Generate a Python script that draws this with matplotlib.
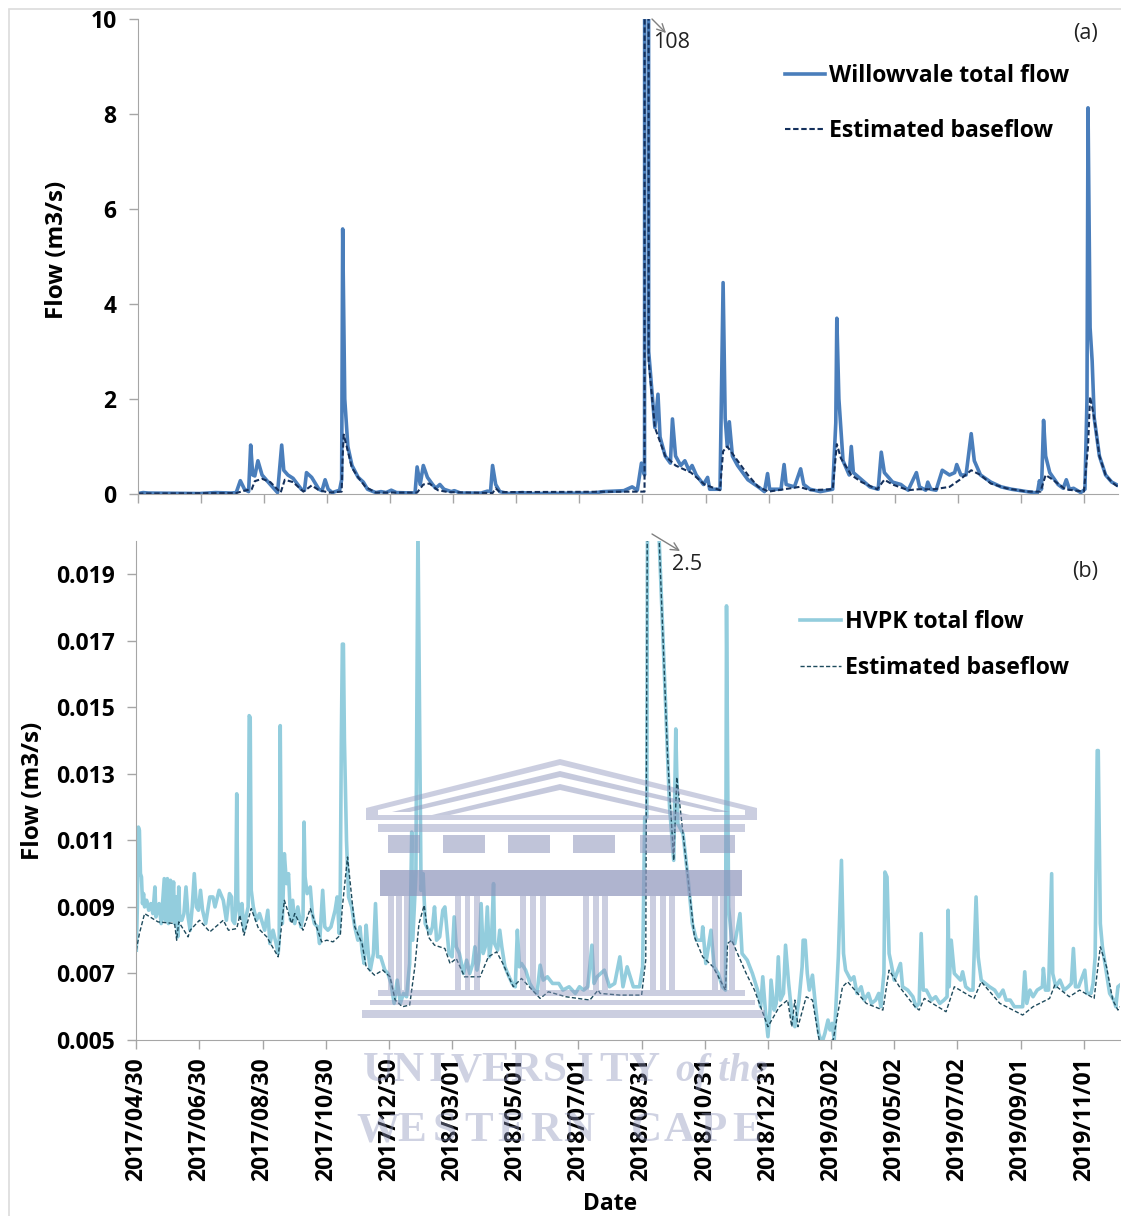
"""Willowvale and HVPK total flow against estimated baseflow."""

import matplotlib
matplotlib.use("Agg")
import matplotlib.pyplot as plt
from matplotlib.lines import Line2D
from matplotlib.patches import FancyArrowPatch, Polygon
import numpy as np

plt.rcParams["font.family"] = ["Open Sans", "DejaVu Sans"]

W, H = 1121, 1216

tick_days = list(range(0, 916, 61))
tick_labels = ["2017/04/30", "2017/06/30", "2017/08/30", "2017/10/30", "2017/12/30",
               "2018/03/01", "2018/05/01", "2018/07/01", "2018/08/31", "2018/10/31",
               "2018/12/31", "2019/03/02", "2019/05/02", "2019/07/02", "2019/09/01",
               "2019/11/01"]

# panel (a), m3/s, days since 2017/04/30
will_days = [0, 5, 10, 60, 75, 90, 95, 99, 103, 107, 109, 111, 113, 116, 120, 128, 135, 139, 141, 145,
             150, 158, 161, 163, 168, 175, 178, 181, 184, 188, 195, 197, 198, 200, 203, 207, 213, 218,
             222, 230, 235, 240, 245, 250, 268, 270, 273, 276, 280, 285, 288, 292, 296, 303, 306, 312,
             332, 338, 341, 343, 346, 350, 358, 372, 380, 440, 450, 470, 478, 483, 487, 490, 491, 493,
             494, 500, 503, 505, 510, 515, 517, 520, 525, 529, 533, 536, 540, 547, 551, 553, 563, 566,
             568, 570, 572, 575, 580, 590, 600, 606, 609, 611, 622, 625, 627, 635, 641, 644, 650, 660,
             672, 675, 676, 678, 682, 688, 690, 692, 700, 708, 716, 719, 722, 730, 738, 745, 753, 756,
             762, 764, 767, 772, 778, 785, 790, 792, 796, 801, 806, 809, 815, 825, 835, 845, 860, 870,
             872, 874, 876, 878, 882, 890, 895, 898, 901, 905, 912, 916, 918, 919, 921, 923, 925, 930,
             936, 942, 948]
will_total = [0.01, 0.03, 0.02, 0.01, 0.03, 0.02, 0.03, 0.28, 0.1, 0.05, 1.03, 0.4, 0.38, 0.7, 0.4, 0.2,
              0.03, 1.03, 0.5, 0.4, 0.33, 0.1, 0.08, 0.45, 0.35, 0.1, 0.07, 0.3, 0.1, 0.03, 0.08, 0.3,
              5.58, 2.0, 1.0, 0.6, 0.35, 0.25, 0.1, 0.03, 0.05, 0.03, 0.08, 0.03, 0.02, 0.57, 0.2, 0.6,
              0.35, 0.2, 0.12, 0.2, 0.1, 0.05, 0.07, 0.02, 0.02, 0.06, 0.05, 0.6, 0.2, 0.05, 0.01, 0.03,
              0.01, 0.02, 0.05, 0.07, 0.15, 0.08, 0.65, 0.4, 108, 108, 3.0, 1.4, 2.1, 1.2, 0.8, 0.65,
              1.58, 0.8, 0.6, 0.7, 0.5, 0.6, 0.4, 0.2, 0.35, 0.1, 0.1, 4.45, 1.6, 1.0, 1.52, 0.8, 0.6,
              0.3, 0.15, 0.05, 0.43, 0.1, 0.1, 0.62, 0.2, 0.15, 0.53, 0.2, 0.1, 0.05, 0.1, 1.5, 3.7, 2.0,
              0.7, 0.4, 1.0, 0.45, 0.3, 0.15, 0.1, 0.88, 0.45, 0.25, 0.2, 0.08, 0.45, 0.15, 0.08, 0.25,
              0.1, 0.08, 0.5, 0.4, 0.45, 0.62, 0.4, 0.4, 1.27, 0.7, 0.4, 0.25, 0.15, 0.1, 0.05, 0.02,
              0.28, 0.1, 1.55, 0.8, 0.45, 0.2, 0.12, 0.3, 0.1, 0.12, 0.03, 0.1, 2.0, 8.13, 3.5, 2.8, 1.6,
              0.8, 0.4, 0.25, 0.18]
will_base_days = [0, 95, 103, 110, 113, 120, 128, 138, 142, 150, 160, 168, 175, 185, 197, 198, 199, 203,
                  207, 213, 220, 230, 270, 276, 282, 290, 300, 343, 346, 350, 490, 491, 493, 494, 500,
                  510, 520, 535, 548, 563, 566, 570, 580, 590, 600, 610, 625, 640, 650, 672, 676, 680,
                  690, 700, 715, 722, 730, 745, 755, 770, 785, 795, 806, 815, 825, 840, 860, 873, 878,
                  885, 897, 915, 919, 921, 925, 930, 936, 942, 948]
will_base = [0.01, 0.02, 0.07, 0.1, 0.27, 0.32, 0.25, 0.03, 0.3, 0.25, 0.05, 0.18, 0.08, 0.03, 0.05, 0.8,
             1.25, 0.9, 0.55, 0.35, 0.15, 0.03, 0.03, 0.2, 0.22, 0.08, 0.04, 0.02, 0.12, 0.04, 0.05, 108,
             108, 2.8, 1.4, 0.8, 0.6, 0.45, 0.2, 0.08, 0.9, 1.0, 0.7, 0.4, 0.15, 0.05, 0.1, 0.15, 0.08,
             0.1, 1.05, 0.75, 0.4, 0.25, 0.1, 0.3, 0.2, 0.08, 0.1, 0.1, 0.15, 0.3, 0.5, 0.4, 0.22, 0.12,
             0.05, 0.05, 0.4, 0.3, 0.1, 0.05, 1.0, 2.05, 1.6, 0.8, 0.4, 0.25, 0.15]

# panel (b), l/s, days since 2017/04/30
hvpk_days = [0, 1, 2, 3, 4, 5, 6, 7, 8, 10, 12, 14, 16, 18, 19, 22, 24, 27, 28, 30, 31, 33, 34, 36, 37, 39,
             40, 41, 42, 44, 46, 48, 50, 52, 54, 56, 58, 60, 62, 64, 67, 71, 74, 76, 80, 84, 87, 90, 92,
             93, 95, 96, 97, 98, 100, 102, 104, 106, 108, 109, 110, 111, 113, 116, 119, 122, 124, 127,
             129, 132, 135, 137, 138, 139, 140, 141, 143, 145, 147, 149, 151, 153, 156, 159, 161, 162,
             163, 165, 168, 170, 172, 175, 177, 180, 182, 185, 188, 192, 194, 196, 197, 198, 199, 200,
             201, 203, 205, 208, 211, 214, 216, 218, 220, 222, 224, 226, 229, 231, 233, 236, 240, 243,
             246, 249, 252, 255, 258, 261, 264, 266, 267, 270, 272, 275, 277, 279, 282, 284, 286, 288,
             290, 293, 296, 298, 300, 302, 305, 307, 309, 312, 316, 319, 322, 325, 327, 329, 331, 333,
             335, 337, 339, 341, 343, 345, 346, 349, 351, 353, 356, 360, 363, 366, 368, 370, 372, 376,
             380, 384, 387, 390, 393, 397, 402, 408, 412, 418, 424, 428, 432, 436, 440, 442, 445, 452,
             457, 462, 467, 470, 474, 480, 486, 489, 491, 493, 494, 497, 505, 513, 515, 519, 521, 523, 528,
             533, 537, 541, 546, 547, 550, 555, 558, 562, 566, 569, 570, 572, 575, 578, 583, 585, 590,
             595, 600, 603, 605, 608, 610, 612, 613, 616, 618, 620, 622, 625, 627, 630, 633, 636, 640,
             643, 644, 646, 648, 650, 653, 656, 659, 662, 665, 668, 670, 672, 674, 678, 681, 683, 685,
             690, 693, 696, 700, 703, 707, 710, 714, 717, 719, 722, 723, 725, 727, 729, 732, 738, 740,
             745, 750, 753, 756, 758, 760, 763, 768, 772, 776, 780, 783, 784, 785, 787, 790, 793, 796,
             798, 801, 805, 808, 811, 813, 816, 820, 824, 829, 833, 837, 840, 844, 848, 853, 856, 858,
             860, 863, 866, 870, 875, 876, 878, 881, 884, 885, 888, 892, 896, 900, 903, 905, 907, 910,
             916, 918, 922, 924, 926, 928, 929, 931, 933, 936, 940, 944, 946, 948, 950]
hvpk_total = [7.7, 9.0, 11.4, 11.3, 10.0, 9.9, 9.1, 9.4, 9.0, 9.2, 8.9, 9.1, 8.8, 9.6, 8.7, 9.1, 8.5, 9.85,
              8.6, 9.85, 8.5, 9.8, 8.6, 9.75, 8.5, 9.3, 8.1, 9.6, 8.6, 8.6, 8.8, 9.6, 8.7, 8.3, 9.0, 10.0,
              9.0, 8.9, 9.5, 8.9, 8.5, 9.3, 9.3, 9.0, 9.5, 9.2, 8.6, 9.4, 9.3, 8.6, 8.5, 9.0, 12.4, 9.2,
              8.7, 9.1, 8.3, 8.7, 9.0, 14.75, 14.7, 9.5, 9.0, 8.6, 8.8, 8.5, 8.3, 8.9, 7.9, 8.3, 7.9, 7.6,
              8.0, 14.45, 10.0, 8.5, 10.6, 9.7, 10.0, 8.6, 9.2, 8.5, 9.0, 8.4, 8.7, 11.55, 9.9, 9.4, 9.6,
              8.8, 8.5, 8.4, 7.9, 9.5, 8.4, 8.3, 8.4, 8.9, 9.3, 8.2, 9.5, 14.0, 16.9, 16.9, 14.0, 11.0,
              9.3, 9.0, 8.4, 8.0, 8.4, 7.7, 7.3, 8.45, 7.6, 7.1, 7.6, 9.1, 7.5, 7.5, 7.1, 7.0, 6.7, 6.1,
              6.8, 6.1, 6.4, 6.3, 7.3, 11.25, 8.0, 10.0, 20.5, 9.5, 10.0, 8.5, 8.3, 8.2, 8.4, 9.0, 8.0,
              8.1, 8.9, 9.0, 8.3, 7.6, 7.5, 8.7, 7.8, 7.6, 7.0, 7.4, 7.0, 7.3, 7.8, 7.1, 7.4, 9.1, 7.6,
              7.8, 9.0, 7.5, 8.0, 9.7, 7.9, 7.7, 8.3, 7.8, 7.2, 6.9, 6.7, 6.6, 8.3, 7.2, 7.3, 7.1, 6.7,
              6.5, 6.4, 7.25, 6.8, 6.9, 6.7, 6.7, 6.5, 6.6, 6.4, 6.6, 6.5, 6.6, 7.85, 6.7, 6.9, 7.1, 6.6,
              6.7, 7.5, 6.6, 7.2, 6.6, 6.6, 7.2, 11.7, 11.7, 25.0, 25.0, 20.0, 13.6, 12.0, 10.4, 14.35, 11.5,
              11.2, 9.8, 8.5, 8.0, 8.0, 8.4, 7.3, 8.3, 7.2, 7.0, 6.6, 6.5, 18.05, 9.0, 8.0, 7.9, 8.8, 7.6,
              7.4, 7.0, 6.5, 6.0, 6.9, 5.7, 5.1, 5.9, 6.8, 5.9, 6.1, 7.5, 6.2, 6.4, 7.85, 6.7, 5.8, 5.4,
              6.2, 7.2, 8.0, 8.0, 7.0, 6.5, 6.95, 6.0, 5.2, 4.9, 5.2, 5.6, 5.3, 5.5, 5.0, 7.5, 10.4, 7.6,
              7.1, 6.8, 6.9, 6.4, 6.6, 6.2, 6.4, 6.1, 6.2, 6.4, 6.0, 7.0, 10.05, 9.9, 7.6, 7.3, 6.8, 7.3,
              6.6, 6.5, 6.3, 6.0, 6.1, 8.2, 6.5, 6.5, 6.2, 6.3, 6.1, 6.2, 6.3, 8.9, 6.6, 8.0, 7.0, 6.9,
              6.8, 7.05, 6.6, 6.5, 6.5, 9.3, 7.5, 6.8, 6.7, 6.6, 6.5, 6.3, 6.5, 6.2, 6.2, 6.0, 6.0, 6.0,
              7.05, 6.1, 6.5, 6.3, 6.5, 6.6, 7.15, 6.5, 6.5, 10.0, 7.0, 6.6, 6.8, 6.5, 6.6, 6.7, 7.75, 6.6,
              6.6, 7.1, 6.4, 6.4, 6.7, 7.5, 13.7, 13.7, 8.5, 7.8, 7.2, 6.4, 6.2, 6.0, 6.6, 6.65]
hvpk_base_days = [0, 3, 8, 21, 37, 39, 41, 50, 52, 61, 71, 84, 89, 97, 100, 104, 111, 118, 126, 137, 143,
                  150, 153, 161, 168, 179, 184, 190, 197, 199, 204, 208, 211, 218, 222, 230, 238, 245,
                  250, 257, 264, 269, 273, 278, 282, 288, 298, 303, 309, 317, 332, 340, 348, 354, 364,
                  372, 390, 398, 415, 438, 446, 448, 467, 488, 492, 494, 497, 505, 513, 515, 519, 522, 528,
                  533, 539, 547, 557, 569, 571, 575, 589, 597, 610, 621, 629, 633, 636, 639, 647, 653, 660,
                  673, 682, 687, 705, 721, 727, 737, 752, 756, 761, 782, 790, 809, 816, 834, 856, 866, 882,
                  887, 901, 911, 925, 931, 937, 943, 948, 950]
hvpk_base = [7.7, 8.2, 8.8, 8.55, 8.5, 8.0, 8.55, 8.1, 8.3, 8.6, 8.25, 8.6, 8.3, 8.35, 8.75, 8.15, 8.95,
             8.35, 8.1, 7.5, 9.2, 8.5, 8.8, 8.3, 8.95, 7.95, 8.0, 7.95, 8.15, 9.0, 10.5, 9.3, 8.4, 7.9,
             7.2, 6.95, 7.1, 6.9, 6.2, 6.0, 6.05, 7.2, 8.5, 9.05, 8.1, 7.85, 7.75, 7.3, 7.45, 6.9, 6.9,
             7.5, 7.65, 7.3, 6.6, 6.85, 6.25, 6.45, 6.3, 6.2, 6.5, 6.4, 6.35, 6.35, 7.4, 25.0, 25.0, 20.0,
             13.6, 12.5, 10.4, 12.9, 11.2, 9.8, 8.1, 7.5, 7.2, 6.5, 7.9, 8.0, 7.0, 6.5, 5.4, 6.0, 6.2, 5.4,
             6.2, 5.4, 6.3, 6.2, 4.9, 5.0, 6.6, 6.75, 6.1, 5.9, 7.1, 6.6, 6.0, 5.9, 6.25, 5.85, 6.6, 6.25,
             6.75, 6.1, 5.75, 6.0, 6.25, 6.65, 6.3, 6.5, 6.25, 7.8, 7.2, 6.2, 5.9, 6.0]

hvpk_total = np.array(hvpk_total) / 1000
hvpk_base = np.array(hvpk_base) / 1000

BLUE = "#4a7ebb"
NAVY = "#14305c"
LIGHT = "#93cddd"
TEAL = "#1d4a5c"
GREY = "#a6a6a6"
TICK = 16.5


def axes_px(fig, left, top, right, bottom):
    ax = fig.add_axes([left / W, 1 - bottom / H, (right - left) / W, (bottom - top) / H])
    ax.patch.set_alpha(0)
    return ax


def style_axes(ax, xmax):
    ax.set_xlim(0, xmax)
    ax.set_xticks(tick_days)
    for side in ["top", "right"]:
        ax.spines[side].set_visible(False)
    for side in ["left", "bottom"]:
        ax.spines[side].set_color(GREY)
    ax.tick_params(axis="both", color=GREY, length=6.5, width=1)
    ax.tick_params(axis="y", pad=9)
    for lab in ax.get_yticklabels():
        lab.set_fontweight("bold")
        lab.set_fontsize(TICK)


def draw_watermark(fig):
    col = "#8d94bb"
    tr = fig.transFigure

    def P(points, alpha=0.45):
        pts = [(x / W, 1 - y / H) for x, y in points]
        fig.add_artist(Polygon(pts, closed=True, fc=col, ec="none", alpha=alpha, transform=tr, zorder=5))

    def R(x0, y0, x1, y1, alpha=0.45):
        P([(x0, y0), (x1, y0), (x1, y1), (x0, y1)], alpha)

    # pediment stripes
    P([(366, 808), (560, 759), (757, 808), (757, 820), (745, 820), (745, 810), (560, 765), (378, 810),
       (378, 820), (366, 820)])
    P([(392, 812), (560, 771), (730, 812), (715, 812), (560, 777), (410, 812)], 0.5)
    P([(432, 815), (560, 784), (690, 815), (672, 815), (560, 790), (450, 815)], 0.5)
    R(378, 815, 745, 820)
    R(378, 824, 745, 832)
    # frieze with its windows left open
    for x0, x1 in [(388, 420), (443, 485), (508, 550), (573, 615), (640, 675), (700, 735)]:
        R(x0, 835, x1, 853, 0.55)
    R(380, 870, 742, 896, 0.7)
    for x0, x1 in [(388, 410), (455, 480), (520, 546), (583, 608), (650, 675), (712, 735)]:
        R(x0, 896, x0 + 6, 990)
        R(x1 - 6, 896, x1, 990)
        R((x0 + x1) / 2 - 3, 896, (x0 + x1) / 2 + 3, 990)
    R(378, 990, 745, 996)
    R(370, 1000, 755, 1005)
    R(362, 1010, 765, 1018)

    word_font = dict(family="Liberation Serif", weight="bold", fontsize=31, color=col, alpha=0.42,
                     ha="center", zorder=5)
    for i, letter in enumerate("UNIVERSITY"):
        fig.text((378 + 29.5 * i) / W, 1 - 1081 / H, letter, **word_font)
    for i, letter in enumerate("WESTERN CAPE"):
        fig.text((378 + 33.5 * i) / W, 1 - 1141 / H, letter, **word_font)
    fig.text(722 / W, 1 - 1081 / H, "of the", family="Liberation Serif", style="italic", weight="bold",
             fontsize=28, color=col, alpha=0.42, ha="center", zorder=5)


def main():
    fig = plt.figure(figsize=(W / 100, H / 100), dpi=100)

    # faint frame of the pasted panels
    fig.add_artist(Line2D([9 / W, 9 / W], [0, 1 - 10 / H], color="#dcdcdc", lw=1.2))
    fig.add_artist(Line2D([9 / W, 1], [1 - 9 / H, 1 - 9 / H], color="#dcdcdc", lw=1.2))

    ax1 = axes_px(fig, 138, 19, 1118, 494)
    ax1.plot(will_days, will_total, color=BLUE, lw=2.6, label="Willowvale total flow")
    ax1.plot(will_base_days, will_base, color=NAVY, lw=1.5, ls=(0, (2.6, 1.3)), label="Estimated baseflow")
    ax1.set_ylim(0, 10)
    ax1.set_yticks([0, 2, 4, 6, 8, 10])
    style_axes(ax1, 948)
    ax1.set_xticklabels([])
    ax1.set_ylabel("Flow (m3/s)", fontsize=17.5, fontweight="bold", va="center")
    ax1.yaxis.set_label_coords((57 - 138) / 980, 0.514)
    ax1.legend(loc="upper left", bbox_to_anchor=(0.66, 0.906), frameon=False, handlelength=1.75,
               handletextpad=0.17, labelspacing=1.37, borderpad=0, borderaxespad=0,
               prop={"weight": "bold", "size": 16.6})
    fig.text(1085 / W, 1 - 33 / H, "(a)", fontsize=15.5, ha="center", va="center", color="#222222")
    fig.text(672 / W, 1 - 42 / H, "108", fontsize=15.5, ha="center", va="center", color="#222222")

    ax2 = axes_px(fig, 136.3, 541, 1120, 1040)
    ax2.plot(hvpk_days, hvpk_total, color=LIGHT, lw=2.6, label="HVPK total flow")
    ax2.plot(hvpk_base_days, hvpk_base, color=TEAL, lw=1.0, ls=(0, (3, 1.6)), label="Estimated baseflow")
    ax2.set_ylim(0.005, 0.020)
    ax2.set_yticks([0.005, 0.007, 0.009, 0.011, 0.013, 0.015, 0.017, 0.019])
    ax2.set_yticklabels(["0.005", "0.007", "0.009", "0.011", "0.013", "0.015", "0.017", "0.019"])
    style_axes(ax2, 950)
    ax2.set_xticklabels(tick_labels, rotation=90, fontsize=TICK, fontweight="bold")
    ax2.tick_params(axis="x", pad=6)
    ax2.set_xlabel("Date", fontsize=16.5, fontweight="bold", va="center")
    ax2.xaxis.set_label_coords((610 - 136.3) / 983.7, (1040 - 1204) / 499)
    ax2.set_ylabel("Flow (m3/s)", fontsize=17.5, fontweight="bold", va="center")
    ax2.yaxis.set_label_coords((33 - 136.3) / 983.7, 0.5)
    ax2.legend(loc="upper left", bbox_to_anchor=(0.675, 0.861), frameon=False, handlelength=1.75,
               handletextpad=0.17, labelspacing=0.96, borderpad=0, borderaxespad=0,
               prop={"weight": "bold", "size": 16.6})
    fig.text(1085 / W, 1 - 572 / H, "(b)", fontsize=15.5, ha="center", va="center", color="#222222")
    fig.text(687 / W, 1 - 565 / H, "2.5", fontsize=15.5, ha="center", va="center", color="#222222")

    for start, end in [((652, 19), (666, 33)), ((652, 534), (680, 551))]:
        fig.add_artist(FancyArrowPatch((start[0] / W, 1 - start[1] / H), (end[0] / W, 1 - end[1] / H),
                                       transform=fig.transFigure, arrowstyle="->", mutation_scale=14,
                                       color="#808080", lw=1, shrinkA=0, shrinkB=0))

    draw_watermark(fig)
    fig.savefig("out.png", dpi=100)
    plt.close(fig)


if __name__ == "__main__":
    main()
